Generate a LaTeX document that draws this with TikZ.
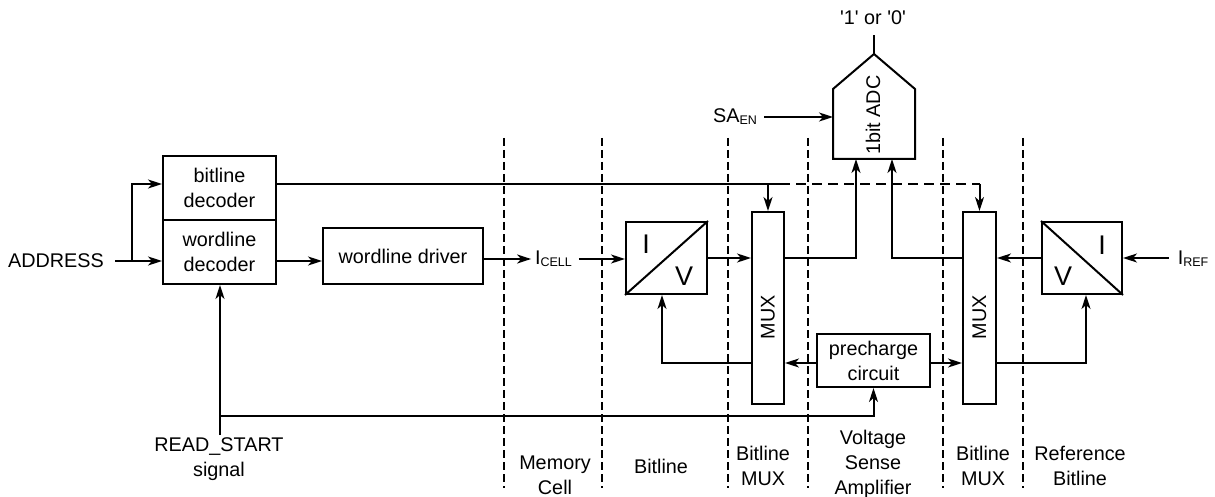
\documentclass[tikz,border=0pt]{standalone}
\usepackage{fontspec}
\setmainfont{Liberation Sans}
\usetikzlibrary{arrows.meta}
\newcommand\myfs{\fontsize{19.8}{25}\selectfont}
\newcommand\ivfs{\fontsize{27}{30}\selectfont}
\newcommand\lowsub[1]{\raisebox{-2pt}{\fontsize{12.5}{13}\selectfont #1}}
\begin{document}
\begin{tikzpicture}[x=1pt,y=-1pt,line width=2pt,
  box/.style={draw,inner sep=0,align=center,font=\myfs},
  txt/.style={inner sep=0,align=center,font=\myfs},
  ivl/.style={inner sep=0,font=\ivfs},
  arr/.style={-{Stealth[length=14pt,width=9pt,inset=4pt]}},
  sep/.style={line width=1.6pt,dash pattern=on 8pt off 4pt},
  dsh/.style={dash pattern=on 10pt off 6pt}]
\useasboundingbox (0,0) rectangle (1215,497);
% separators
\foreach \x in {504,602,728,808,943,1023} \draw[sep] (\x,138) -- (\x,488);
% nodes
\node[txt] (addr) at (56,261) {ADDRESS};
\node[box,minimum width=113pt,minimum height=64pt] (bdec) at (219.5,188) {bitline\\decoder};
\node[box,minimum width=113pt,minimum height=64pt] (wdec) at (219.5,252) {wordline\\decoder};
\node[box,minimum width=160pt,minimum height=56pt] (wdrv) at (403,256) {wordline driver};
\node[txt] (icell) at (553.5,259) {I\lowsub{CELL}};
\node[box,minimum width=81pt,minimum height=72pt] (iv1) at (666.5,258) {};
\draw (iv1.south west) -- (iv1.north east);
\node[ivl] (iv1i) at (646,244) {I};
\node[ivl] (iv1v) at (684,276) {V};
\node[box,minimum width=32pt,minimum height=192pt] (mux1) at (768,308) {};
\node[txt,rotate=90] (mux1t) at (768,317) {MUX};
\node[box,minimum width=113pt,minimum height=53pt] (pre) at (873.5,360.5) {precharge\\circuit};
\node[box,minimum width=33pt,minimum height=192pt] (mux2) at (979.5,308) {};
\node[txt,rotate=90] (mux2t) at (979.5,317) {MUX};
\node[box,minimum width=80pt,minimum height=72pt] (iv2) at (1082,258) {};
\draw (iv2.north west) -- (iv2.south east);
\node[ivl] (iv2i) at (1102,245) {I};
\node[ivl] (iv2v) at (1063,276) {V};
\node[txt] (iref) at (1193,259) {I\lowsub{REF}};
% ADC
\node[minimum width=80pt,minimum height=68pt,inner sep=0] (adc) at (874,124) {};
\coordinate (apex) at (874,54);
\draw (adc.south west) -- (adc.north west) -- (apex) -- (adc.north east) -- (adc.south east) -- cycle;
\node[txt,rotate=90] (adct) at (873,115) {1bit ADC};
\node[txt] (q) at (873,18) {\textquotesingle1\textquotesingle{} or \textquotesingle0\textquotesingle};
\coordinate (qend) at (874,35);
\draw (apex) -- (qend);
\node[txt] (saen) at (735,117) {SA\lowsub{EN}};
\coordinate (saenA) at (764,117);
\draw[arr] (saenA) -- (adc.west |- saenA);
% bottom labels
\node[txt] (rs) at (219,459) {READ\_START\\signal};
\node[txt] (lmem) at (555,475) {Memory\\Cell};
\node[txt] (lbl) at (661,466) {Bitline};
\node[txt] (lbm1) at (763,466) {Bitline\\MUX};
\node[txt] (lvsa) at (873,464) {Voltage\\Sense\\Amplifier};
\node[txt] (lbm2) at (983,466) {Bitline\\MUX};
\node[txt] (lref) at (1080,466) {Reference\\Bitline};
% helper rows
\coordinate (brow) at (0,184);
\coordinate (arow) at (0,261);
\coordinate (crow) at (0,259);
\coordinate (prow) at (0,363);
\coordinate (addrA) at (115,261);
\coordinate (addrB) at (132,261);
\coordinate (rsTop) at (220,435);
\coordinate (rsJ) at (220,416);
\coordinate (solidEnd) at (780,184);
% connectors
\draw[arr] (addrA) -- (addrA -| wdec.west);
\draw[arr] (addrB) |- (bdec.west |- brow);
\draw (bdec.east |- brow) -- (solidEnd);
\draw[arr] (mux1.north |- brow) -- (mux1.north);
\draw[dsh] (solidEnd) -- (mux2.north |- brow);
\draw[arr] (mux2.north |- brow) -- (mux2.north);
\draw[arr] (wdec.east |- arow) -- (wdrv.west |- arow);
\draw[arr,shorten >=3pt] (wdrv.east |- crow) -- (icell.west |- crow);
\draw[arr] ([xshift=6pt]icell.east |- crow) -- (iv1.west |- crow);
\draw[arr] (iv1.east) -- (iv1.east -| mux1.west);
\draw[arr] (mux1.east |- iv1.east) -| ([xshift=-18pt]adc.south);
\draw[arr] (mux2.west |- iv1.east) -| ([xshift=18pt]adc.south);
\draw[arr] (iv2.west) -- (iv2.west -| mux2.east);
\draw[arr] ([xshift=-8pt]iref.west |- iv2.east) -- (iv2.east);
\draw[arr] (pre.west |- prow) -- (mux1.east |- prow);
\draw[arr] (pre.east |- prow) -- (mux2.west |- prow);
\draw[arr] (mux1.west |- prow) -| ([xshift=-4.5pt]iv1.south);
\draw[arr] (mux2.east |- prow) -| ([xshift=4pt]iv2.south);
\draw[arr] (rsTop) -- (rsTop |- wdec.south);
\draw[arr] (rsJ) -| (pre.south);
\end{tikzpicture}
\end{document}
